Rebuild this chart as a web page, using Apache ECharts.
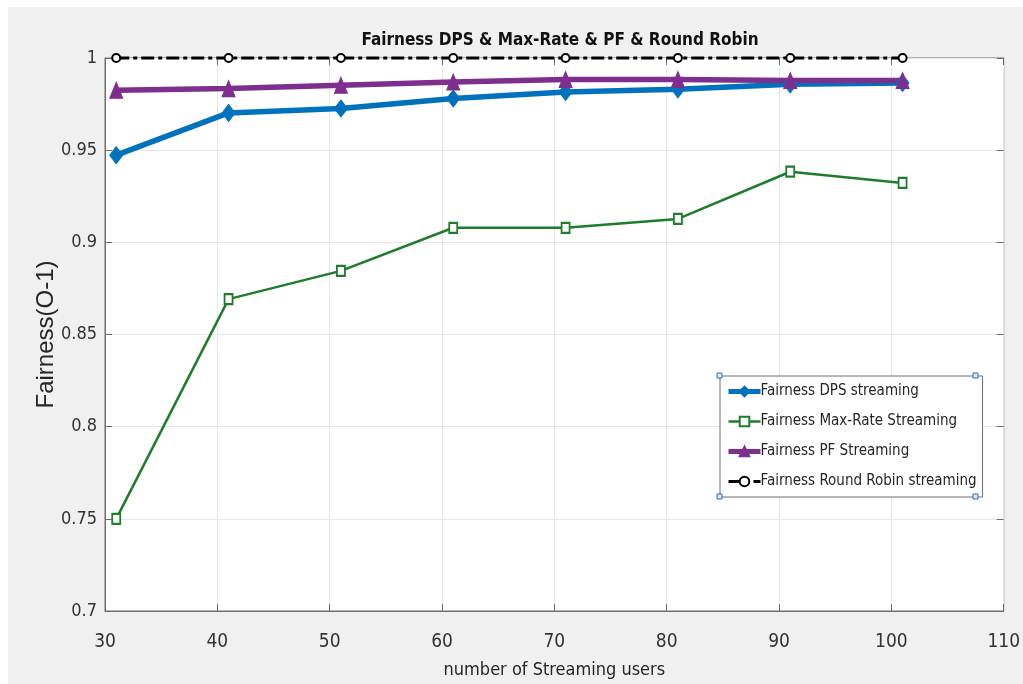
<!DOCTYPE html>
<html>
<head>
<meta charset="utf-8">
<script src="https://cdn.jsdelivr.net/npm/echarts@6/dist/echarts.min.js"></script>
<style>
html,body{margin:0;padding:0;background:#fff;}
#wrap{width:1023px;height:684px;box-sizing:border-box;border-left:8px solid #fff;border-top:7px solid #fff;}
#chart{width:1015px;height:677px;}
</style>
</head>
<body>
<div id="wrap"><div id="chart"></div></div>
<script>
const users = [31, 41, 51, 61, 71, 81, 91, 101];
const dps = [0.9473, 0.9702, 0.9726, 0.978, 0.9816, 0.983, 0.9857, 0.9865];
const maxRate = [0.750, 0.8692, 0.8845, 0.9079, 0.9079, 0.9127, 0.9383, 0.9322];
const pf = [0.9825, 0.9834, 0.9852, 0.9870, 0.9884, 0.9883, 0.9878, 0.9878];
const rr = [1, 1, 1, 1, 1, 1, 1, 1];
const xTicks = [30, 40, 50, 60, 70, 80, 90, 100, 110];
const yTicks = [0.7, 0.75, 0.8, 0.85, 0.9, 0.95, 1];
const seriesNames = ['Fairness DPS streaming', 'Fairness Max-Rate Streaming', 'Fairness PF Streaming', 'Fairness Round Robin streaming'];

const narrow = '"Liberation Sans Narrow", "Arial Narrow", "DejaVu Sans Condensed", sans-serif';
const pair = (xs, ys) => xs.map((x, i) => [x, ys[i]]);

const chart = echarts.init(document.getElementById('chart'));

chart.setOption({
  backgroundColor: '#f0f0f0',
  animation: false,
  title: {
    text: 'Fairness DPS & Max-Rate & PF & Round Robin',
    left: 547, top: 20, textAlign: 'center',
    textStyle: {fontFamily: narrow, fontWeight: 'bold', fontSize: 17, color: '#111'}
  },
  grid: {left: 97, right: 14, top: 51, bottom: 72, show: true, backgroundColor: '#ffffff', borderColor: '#6e6e6e', borderWidth: 1},
  legend: {
    orient: 'vertical',
    left: 712, top: 369,
    padding: [8, 6, 8, 6],
    itemGap: 15,
    itemWidth: 32, itemHeight: 12,
    backgroundColor: '#ffffff',
    borderColor: '#6e6e6e', borderWidth: 1,
    textStyle: {fontFamily: narrow, fontSize: 15, color: '#262626', padding: [0, 0, 0, -5]},
    data: [
      {name: seriesNames[0], lineStyle: {width: 5}},
      {name: seriesNames[1], lineStyle: {width: 2.5}},
      {name: seriesNames[2], lineStyle: {width: 5}},
      {name: seriesNames[3], lineStyle: {width: 3}}
    ]
  },
  xAxis: [{
    type: 'value', min: 30, max: 110, interval: 10,
    name: 'number of Streaming users', nameLocation: 'middle', nameGap: 50,
    nameTextStyle: {fontFamily: narrow, fontSize: 18, color: '#262626'},
    axisLine: {show: true, lineStyle: {color: '#6e6e6e'}},
    axisTick: {show: true, inside: true, length: 7, lineStyle: {color: '#6e6e6e'}},
    axisLabel: {fontFamily: narrow, fontSize: 19, color: '#333', margin: 22,
      formatter: v => xTicks.includes(v) ? String(v) : ''},
    splitLine: {show: true, lineStyle: {color: '#e6e6e6'}}
  }, {
    type: 'value', min: 30, max: 110, interval: 10, position: 'top',
    axisLine: {show: false},
    axisTick: {show: true, inside: true, length: 7, lineStyle: {color: '#6e6e6e'}},
    axisLabel: {show: false}, splitLine: {show: false}
  }],
  yAxis: [{
    type: 'value', min: 0.7, max: 1, interval: 0.05,
    name: 'Fairness(O-1)', nameLocation: 'middle', nameGap: 47, nameRotate: 90,
    nameMoveOverlap: false,
    nameTextStyle: {fontFamily: '"Liberation Sans", Arial, sans-serif', fontSize: 24, color: '#262626'},
    axisLine: {show: true, lineStyle: {color: '#6e6e6e'}},
    axisTick: {show: true, inside: true, length: 7, lineStyle: {color: '#6e6e6e'}},
    axisLabel: {fontFamily: narrow, fontSize: 18, color: '#333', margin: 8,
      formatter: v => { const t = yTicks.find(y => Math.abs(y - v) < 1e-9); return t === undefined ? '' : String(t); }},
    splitLine: {show: true, lineStyle: {color: '#e6e6e6'}}
  }, {
    type: 'value', min: 0.7, max: 1, interval: 0.05, position: 'right',
    axisLine: {show: false},
    axisTick: {show: true, inside: true, length: 7, lineStyle: {color: '#6e6e6e'}},
    axisLabel: {show: false}, splitLine: {show: false}
  }],
  series: [{
    name: seriesNames[0], type: 'line', clip: false,
    data: pair(users, dps),
    symbol: 'diamond', symbolSize: [13, 17],
    lineStyle: {color: '#0072BD', width: 5.5},
    itemStyle: {color: '#0072BD', borderColor: '#0072BD', borderWidth: 1}
  }, {
    name: seriesNames[1], type: 'line', clip: false,
    data: pair(users, maxRate),
    symbol: 'emptyRect', symbolSize: [8, 10],
    lineStyle: {color: '#1e7d2c', width: 2.5},
    itemStyle: {color: '#1e7d2c', borderColor: '#1e7d2c', borderWidth: 2}
  }, {
    name: seriesNames[2], type: 'line', clip: false,
    data: pair(users, pf),
    symbol: 'triangle', symbolSize: [13, 16],
    lineStyle: {color: '#7E2F8E', width: 5.5},
    itemStyle: {color: '#7E2F8E', borderColor: '#7E2F8E', borderWidth: 1}
  }, {
    name: seriesNames[3], type: 'line', clip: false, z: 5,
    data: pair(users, rr),
    symbol: 'emptyCircle', symbolSize: 8,
    lineStyle: {color: '#000', width: 3.2, type: [13, 4, 4, 4]},
    itemStyle: {color: '#000', borderColor: '#000', borderWidth: 2.5}
  }],
  graphic: [
    {type: 'rect', shape: {x: 709, y: 366, width: 5, height: 5}, style: {fill: '#dfe9f5', stroke: '#2f6fb5', lineWidth: 1}, z: 100},
    {type: 'rect', shape: {x: 965, y: 366, width: 5, height: 5}, style: {fill: '#dfe9f5', stroke: '#2f6fb5', lineWidth: 1}, z: 100},
    {type: 'rect', shape: {x: 709, y: 487, width: 5, height: 5}, style: {fill: '#dfe9f5', stroke: '#2f6fb5', lineWidth: 1}, z: 100},
    {type: 'rect', shape: {x: 965, y: 487, width: 5, height: 5}, style: {fill: '#dfe9f5', stroke: '#2f6fb5', lineWidth: 1}, z: 100}
  ]
});
</script>
</body>
</html>
